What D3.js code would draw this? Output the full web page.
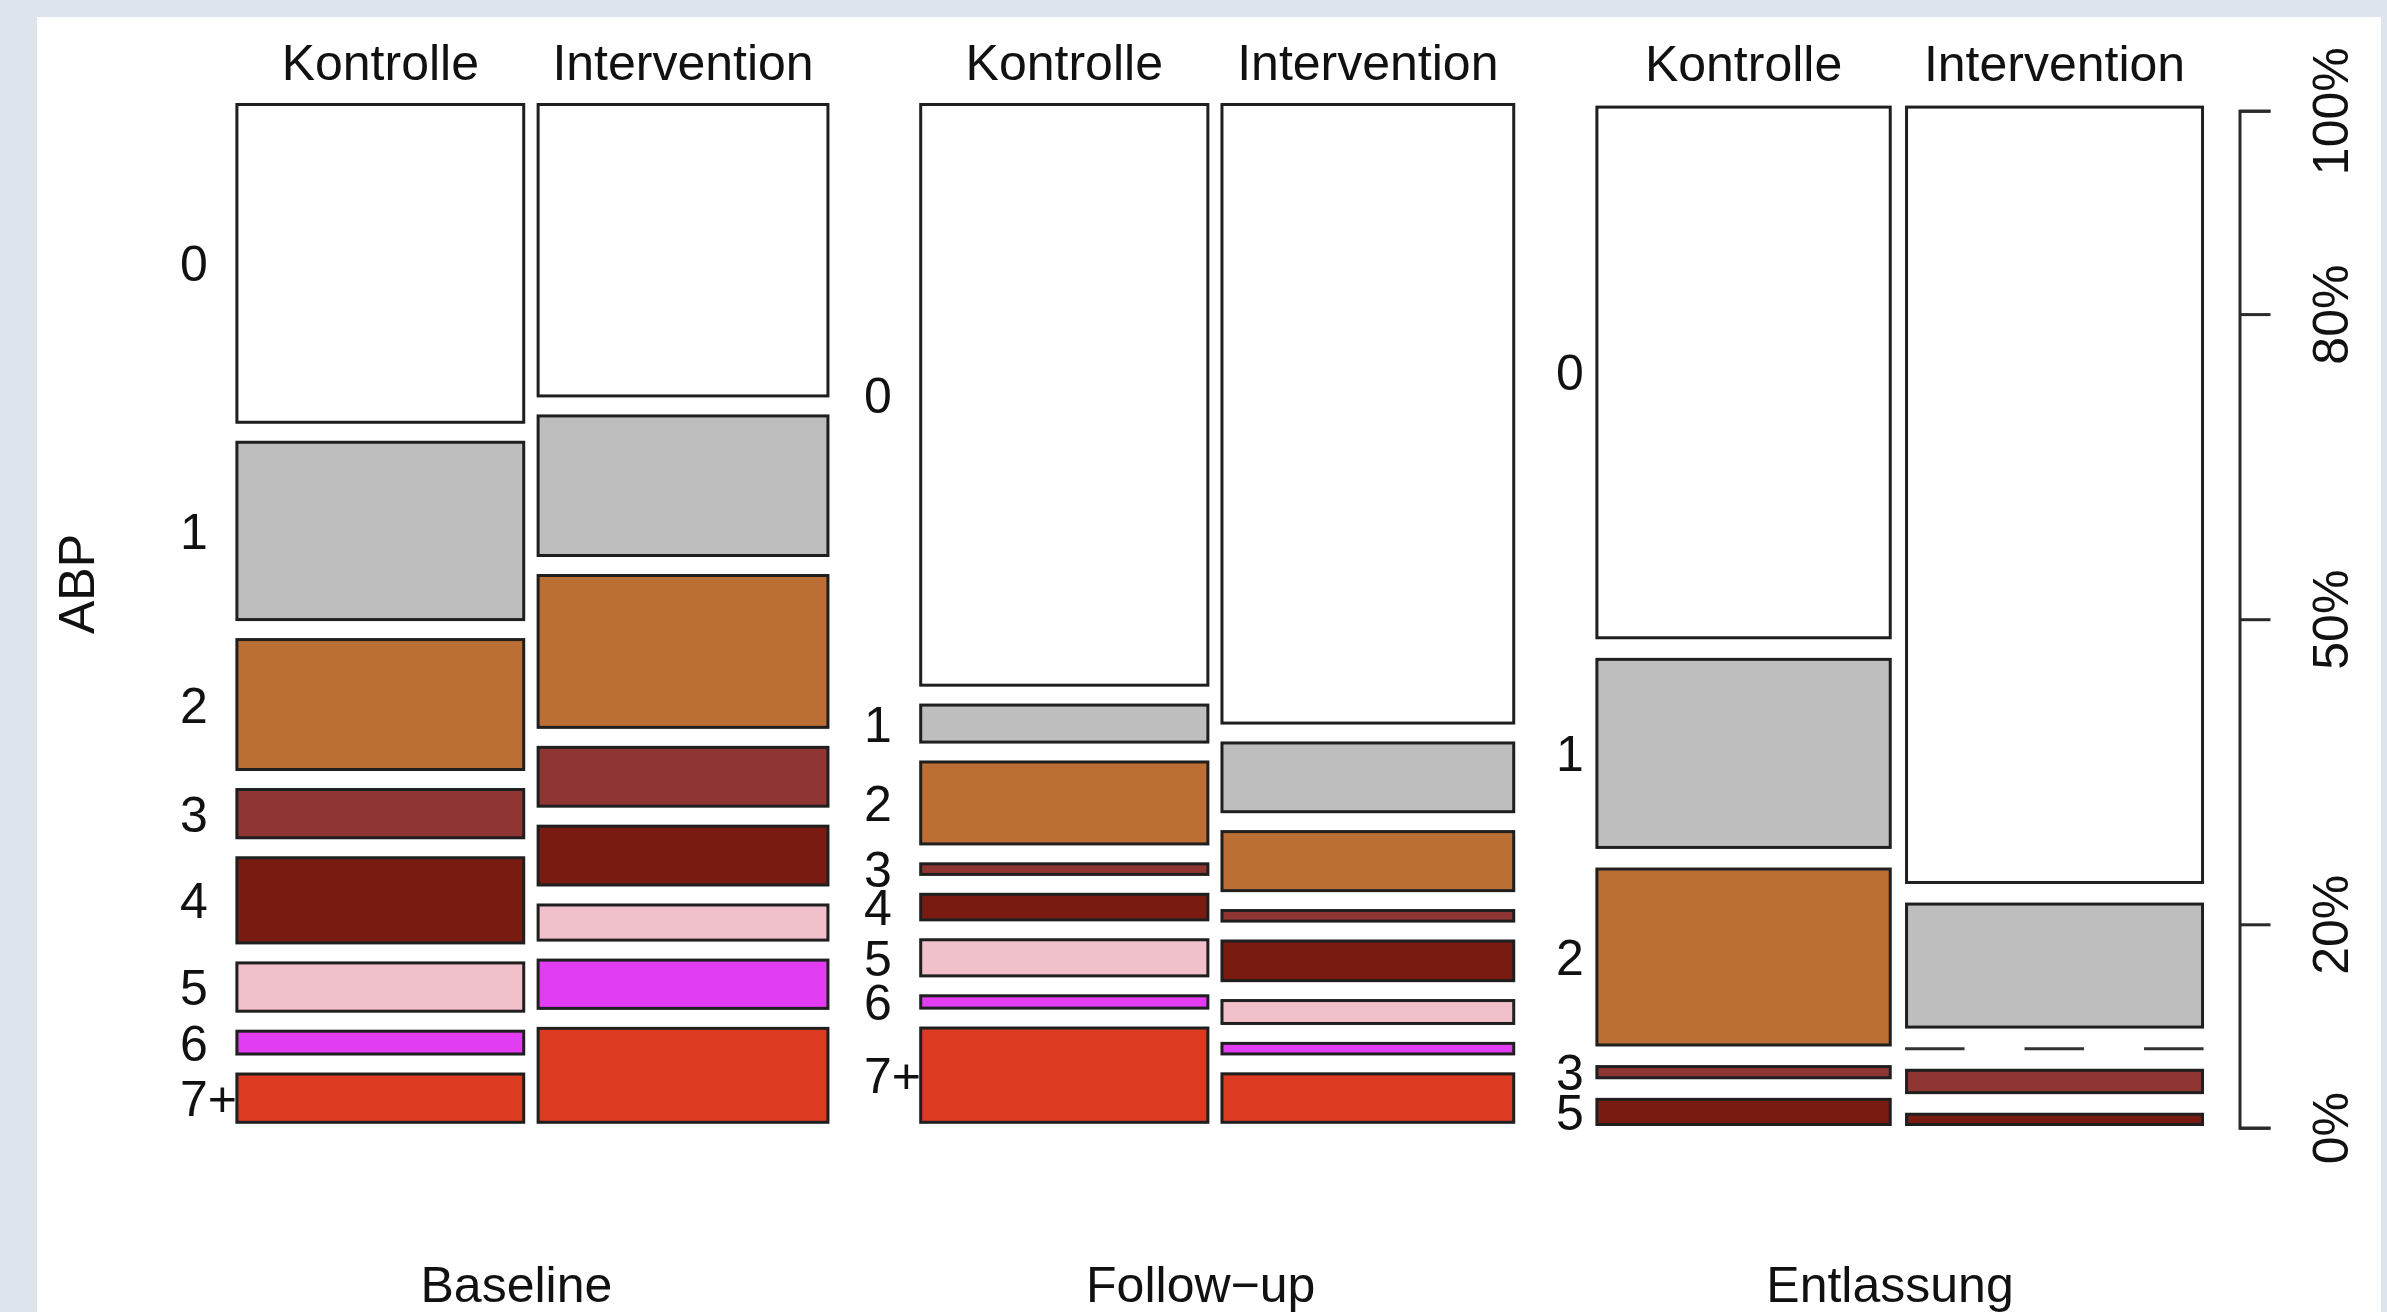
<!DOCTYPE html>
<html>
<head>
<meta charset="utf-8">
<script src="https://cdn.jsdelivr.net/npm/d3@7"></script>
<style>
  html, body { margin: 0; padding: 0; background: #DEE4EC; }
  svg { display: block; }
  text { font-family: "Liberation Sans", Arial, Helvetica, sans-serif; fill: #111111; }
</style>
</head>
<body>
<svg id="chart" width="2387" height="1312"></svg>
<script>
// ---------------- data ----------------
const panels = ["Baseline", "Follow\u2212up", "Entlassung"];
const groups = ["Kontrolle", "Intervention"];
const abpLevels = ["0", "1", "2", "3", "4", "5", "6", "7+"];
const abpLevelsEntlassung = ["0", "1", "2", "3", "5"];

// conditional distribution of ABP (% within group)
const baselineKontrolle      = [36.2, 20.2, 14.8, 5.5, 9.7, 5.5, 2.6, 5.5];
const baselineIntervention   = [33.2, 15.9, 17.3, 6.7, 6.7, 4.0, 5.5, 10.7];
const followupKontrolle      = [65.9, 4.2, 9.3, 1.2, 2.9, 4.1, 1.4, 10.7];
const followupIntervention   = [70.2, 7.8, 6.7, 1.2, 4.5, 2.6, 1.2, 5.5];
const entlassungKontrolle    = [57.0, 20.2, 18.9, 1.2, 2.7];
const entlassungIntervention = [83.2, 13.2, 0, 2.4, 1.1];

// relative group sizes (column widths, % of total)
const groupShare = [16.44, 16.61, 16.46, 16.72, 16.81, 16.96];

const axisTicks = [0, 20, 50, 80, 100];
const palette = ["#FFFFFF", "#BEBEBE", "#BB6F34", "#8F3632", "#7A1B12", "#F2C0CA", "#E23DF2", "#DD3A22"];

// ---------------- layout ----------------
const W = 2387, H = 1312;
const SW = 3;
const strokeCol = "#1f1f1f";
const panelLeft = [235.4, 919.2, 1595.4];
const innerGap = [11.4, 11.1, 13.3];
const visTop = [103.0, 103.0, 105.6];
const visBottom = [1123.8, 1123.8, 1126.0];
const cellGap = [20.0, 19.9, 21.6];
const labelX = [180, 864, 1556];
const titleDX = [-16, -16.5, -9.7];
const headerY = [79.5, 79.5, 80.5];
const FS = 50;

const panelData = [
  { levels: abpLevels, cols: [baselineKontrolle, baselineIntervention] },
  { levels: abpLevels, cols: [followupKontrolle, followupIntervention] },
  { levels: abpLevelsEntlassung, cols: [entlassungKontrolle, entlassungIntervention] }
];

const svg = d3.select("#chart");
svg.append("rect").attr("x", 0).attr("y", 0).attr("width", W).attr("height", H).attr("fill", "#DEE4EC");
svg.append("rect").attr("x", 37).attr("y", 17).attr("width", 2344).attr("height", H).attr("fill", "#FFFFFF");

const xw = d3.scaleLinear().domain([0, 100]).range([0, 1762.9]);

panelData.forEach((pd, p) => {
  const g = svg.append("g").attr("class", "panel");
  let panelRight = 0;
  pd.cols.forEach((vals, gi) => {
    const ci = p * 2 + gi;
    const x0 = panelLeft[p] + (gi === 1 ? xw(groupShare[p * 2]) + innerGap[p] : 0);
    const w = xw(groupShare[ci]);
    panelRight = x0 + w;
    const T = visTop[p] + SW / 2, B = visBottom[p] - SW / 2;
    const n = vals.length;
    const avail = B - T - cellGap[p] * (n - 1);
    const ys = d3.scaleLinear().domain([0, d3.sum(vals)]).range([0, avail]);
    const cum = d3.cumsum([0, ...vals]);
    const cells = vals.map((v, i) => ({
      v, i, level: pd.levels[i],
      y: T + ys(cum[i]) + i * cellGap[p],
      h: ys(v)
    }));

    // header
    g.append("text")
      .attr("x", x0 + w / 2).attr("y", headerY[p])
      .attr("text-anchor", "middle").attr("font-size", FS)
      .text(groups[gi]);

    g.selectAll(null).data(cells.filter(c => c.v > 0)).enter().append("rect")
      .attr("x", x0 + SW / 2).attr("width", w - SW)
      .attr("y", c => c.y).attr("height", c => c.h)
      .attr("fill", c => palette[c.i])
      .attr("stroke", strokeCol).attr("stroke-width", SW);

    g.selectAll(null).data(cells.filter(c => c.v === 0)).enter().append("line")
      .attr("x1", x0).attr("x2", x0 + w)
      .attr("y1", c => c.y).attr("y2", c => c.y)
      .attr("stroke", "#333").attr("stroke-width", SW)
      .attr("stroke-dasharray", "59.5 60");

    if (gi === 0) {
      g.selectAll(null).data(cells).enter().append("text")
        .attr("x", labelX[p]).attr("y", c => c.y + c.h / 2)
        .attr("dy", "0.36em").attr("font-size", FS)
        .text(c => c.level);
    }
  });
  const cx = (panelLeft[p] + panelRight) / 2 + titleDX[p];
  g.append("text").attr("x", cx).attr("y", 1302)
    .attr("text-anchor", "middle").attr("font-size", FS)
    .text(panels[p]);
});

// y-axis title
svg.append("text")
  .attr("transform", "translate(93.5,584) rotate(-90)")
  .attr("text-anchor", "middle").attr("font-size", FS)
  .text("ABP");

// right percentage axis
const yAxis = d3.scaleLinear().domain([0, 100]).range([1127.7, 110.7]);
const ax = svg.append("g").attr("transform", "translate(2239.5,0)")
  .call(d3.axisRight(yAxis).tickValues(axisTicks).tickSize(31).tickSizeOuter(31)
        .tickFormat(d => d + "%"));
ax.select(".domain").attr("stroke", "#2a2a2a").attr("stroke-width", 3);
ax.selectAll(".tick line").attr("stroke", "#2a2a2a").attr("stroke-width", 3);
ax.selectAll(".tick text")
  .attr("x", null).attr("dy", null).attr("y", null)
  .attr("text-anchor", "middle")
  .attr("font-size", FS)
  .attr("font-family", "Liberation Sans, Arial, sans-serif")
  .attr("fill", "#111111")
  .attr("transform", "translate(108.5,0) rotate(-90)");
</script>
</body>
</html>
